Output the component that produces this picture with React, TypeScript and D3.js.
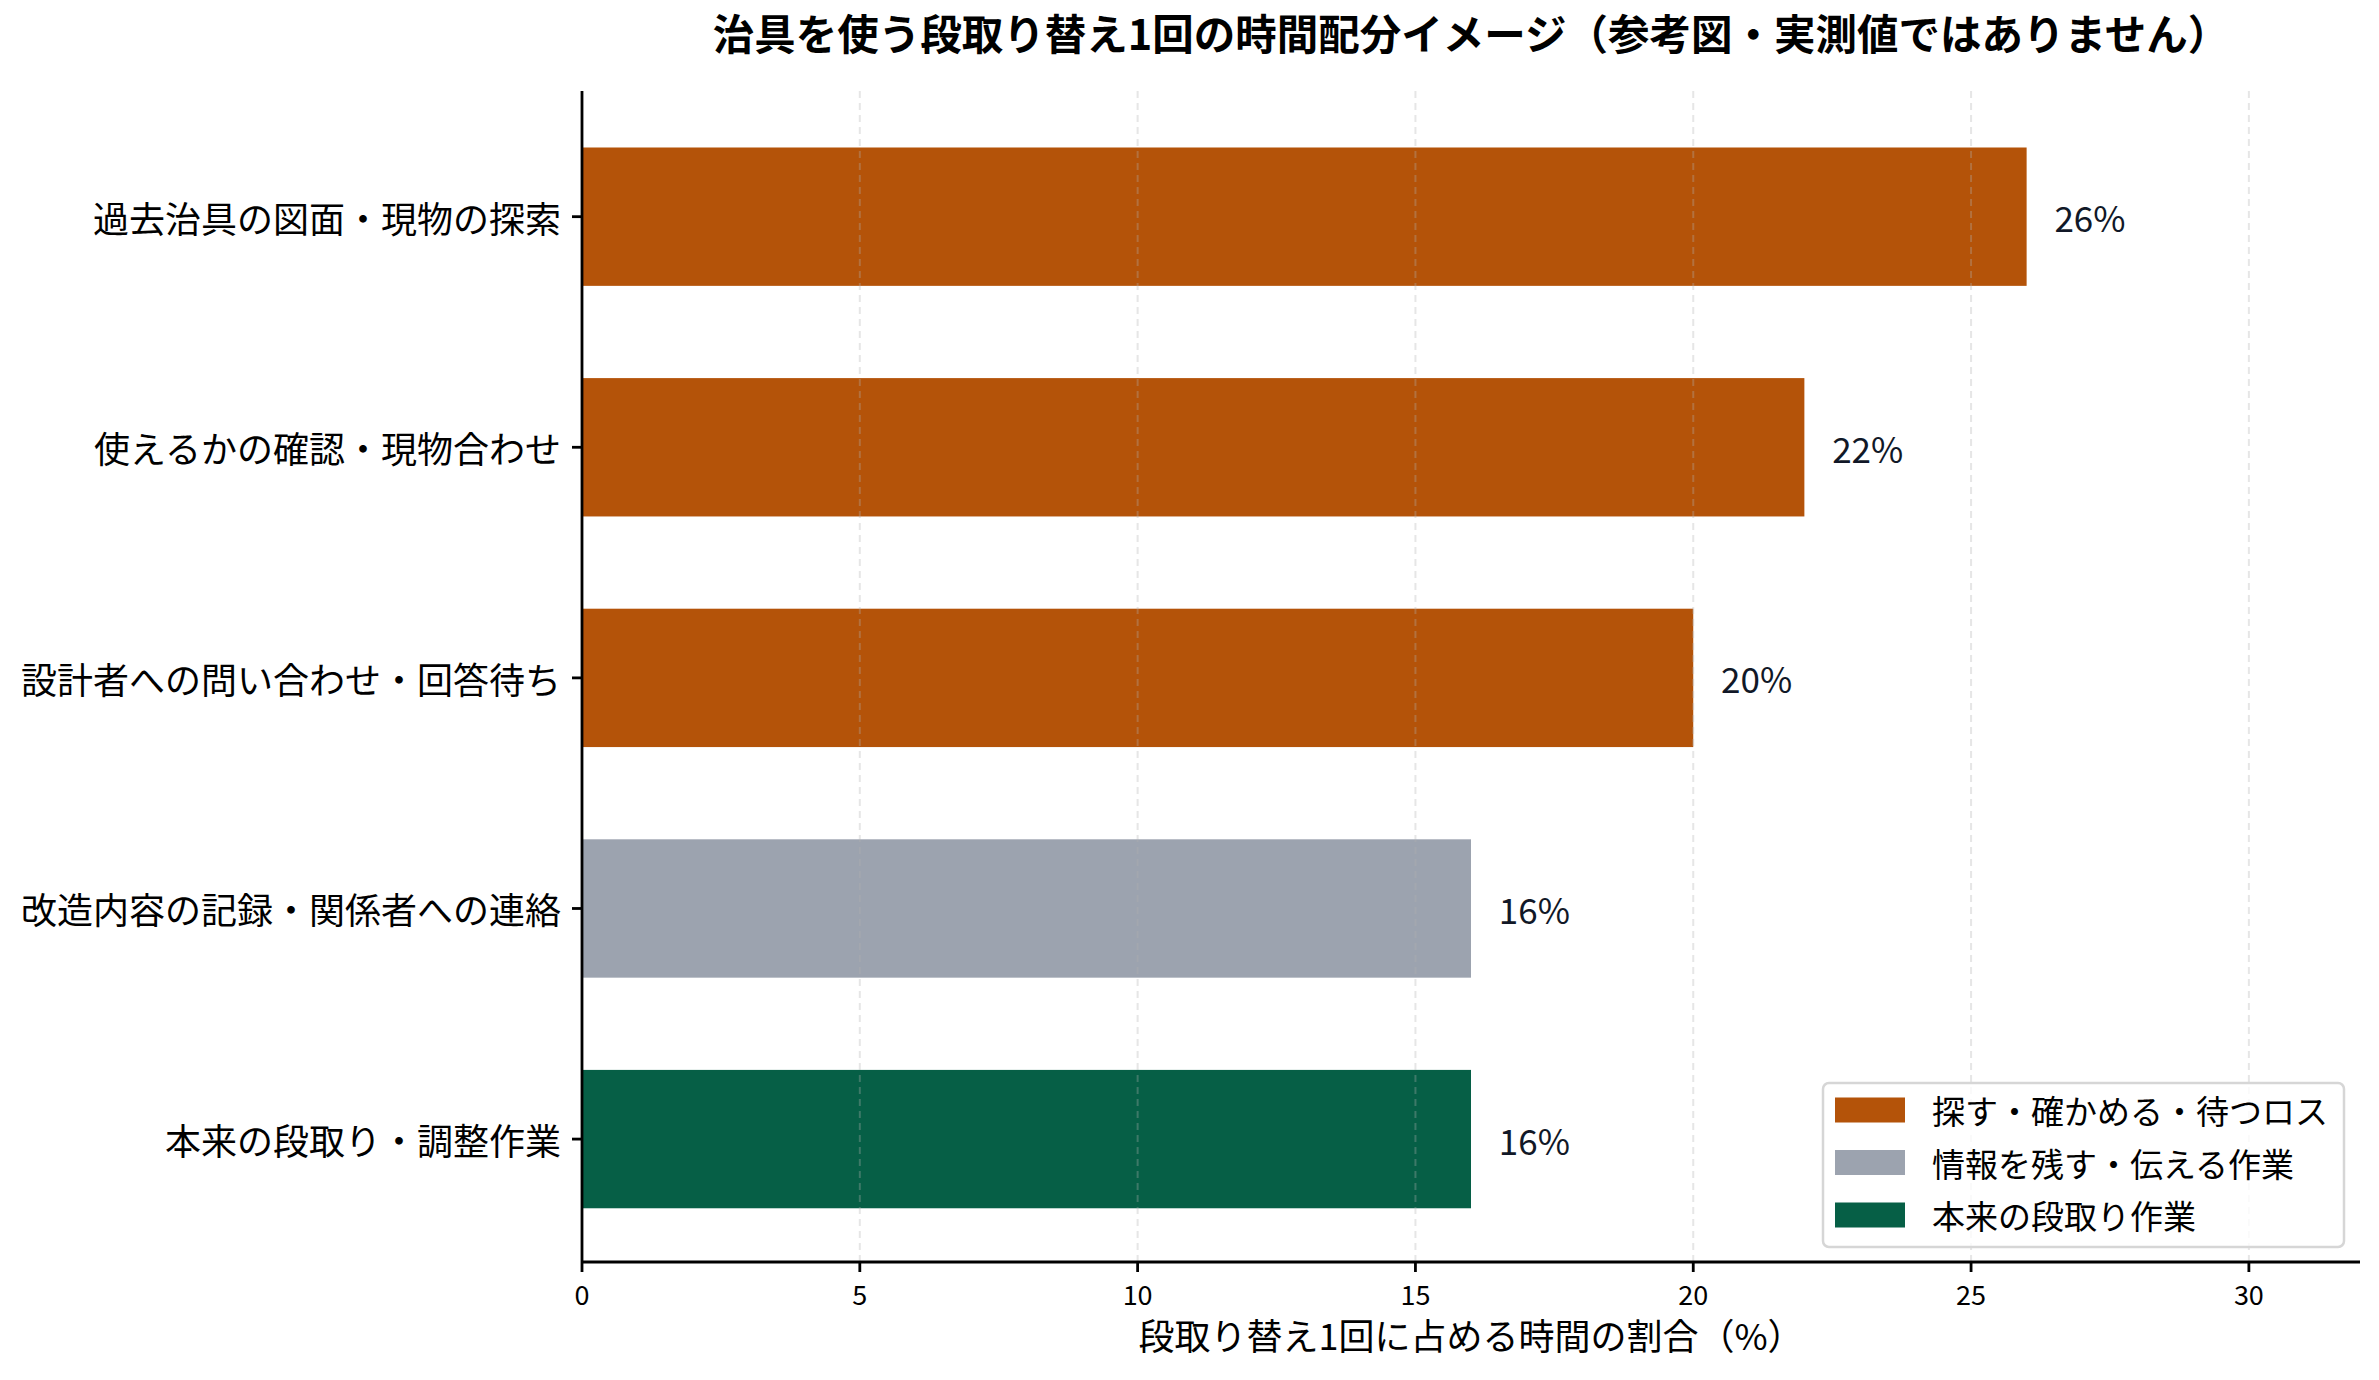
import React, { useEffect, useRef } from 'react';
import * as d3 from 'd3';

const categories = [
  '過去治具の図面・現物の探索',
  '使えるかの確認・現物合わせ',
  '設計者への問い合わせ・回答待ち',
  '改造内容の記録・関係者への連絡',
  '本来の段取り・調整作業',
];
const shares = [26, 22, 20, 16, 16];
const groups = ['loss', 'loss', 'loss', 'info', 'core'];

const legendKeys = ['loss', 'info', 'core'];
const legendLabels = ['探す・確かめる・待つロス', '情報を残す・伝える作業', '本来の段取り作業'];
const xTicks = [0, 5, 10, 15, 20, 25, 30];

const colors: Record<string, string> = {
  loss: '#b45309',
  info: '#9ca3af',
  core: '#065f46',
};

const FONT = '"Noto Sans CJK JP", "Noto Sans", sans-serif';

const App: React.FC = () => {
  const svgRef = useRef<SVGSVGElement>(null);

  useEffect(() => {
    if (!svgRef.current) return;

    const width = 2379;
    const height = 1380;
    const left = 582;
    const right = 2360;
    const top = 91;
    const bottom = 1262;

    const svg = d3.select(svgRef.current)
      .attr('width', width)
      .attr('height', height)
      .attr('viewBox', `0 0 ${width} ${height}`)
      .html('');

    svg.append('rect').attr('width', width).attr('height', height).attr('fill', '#fff');

    const x = d3.scaleLinear().domain([0, 32]).range([left, right]);
    const y = d3.scaleLinear().domain([-0.545, 4.533]).range([top, bottom]);
    const barH = y(0.3) - y(-0.3);

    // bars
    svg.append('g')
      .selectAll('rect')
      .data(shares)
      .join('rect')
      .attr('x', x(0))
      .attr('y', (_, i) => y(i) - barH / 2)
      .attr('width', d => x(d) - x(0))
      .attr('height', barH)
      .attr('fill', (_, i) => colors[groups[i]]);

    // grid (drawn over bars, translucent)
    svg.append('g')
      .selectAll('line')
      .data(xTicks.slice(1))
      .join('line')
      .attr('x1', d => x(d))
      .attr('x2', d => x(d))
      .attr('y1', top)
      .attr('y2', bottom)
      .attr('stroke', '#b0b0b0')
      .attr('stroke-opacity', 0.32)
      .attr('stroke-width', 2)
      .attr('stroke-dasharray', '7,5');

    // value labels
    svg.append('g')
      .selectAll('text')
      .data(shares)
      .join('text')
      .attr('x', d => x(d + 0.5))
      .attr('y', (_, i) => y(i))
      .attr('dominant-baseline', 'central')
      .attr('font-family', FONT)
      .attr('font-size', 35)
      .attr('fill', '#111827')
      .text(d => `${d}%`);

    // x axis
    const xAxis = svg.append('g');
    xAxis.append('line')
      .attr('x1', left).attr('x2', right)
      .attr('y1', bottom).attr('y2', bottom)
      .attr('stroke', '#000').attr('stroke-width', 2.8);
    const xt = xAxis.selectAll('g.tick').data(xTicks).join('g').attr('class', 'tick');
    xt.append('line')
      .attr('x1', d => x(d)).attr('x2', d => x(d))
      .attr('y1', bottom).attr('y2', bottom + 10)
      .attr('stroke', '#000').attr('stroke-width', 2.8);
    xt.append('text')
      .attr('x', d => x(d))
      .attr('y', bottom + 43)
      .attr('text-anchor', 'middle')
      .attr('font-family', FONT)
      .attr('font-size', 27)
      .attr('fill', '#000')
      .text(d => d);

    // y axis
    const yAxis = svg.append('g');
    yAxis.append('line')
      .attr('x1', left).attr('x2', left)
      .attr('y1', top).attr('y2', bottom)
      .attr('stroke', '#000').attr('stroke-width', 2.8);
    const yt = yAxis.selectAll('g.tick').data(categories).join('g').attr('class', 'tick');
    yt.append('line')
      .attr('x1', left - 10).attr('x2', left)
      .attr('y1', (_, i) => y(i)).attr('y2', (_, i) => y(i))
      .attr('stroke', '#000').attr('stroke-width', 2.8);
    yt.append('text')
      .attr('x', left - 21)
      .attr('y', (_, i) => y(i))
      .attr('text-anchor', 'end')
      .attr('dominant-baseline', 'central')
      .attr('font-family', FONT)
      .attr('font-size', 36)
      .attr('fill', '#000')
      .text(d => d);

    // axis label
    svg.append('text')
      .attr('x', (left + right) / 2)
      .attr('y', 1350)
      .attr('text-anchor', 'middle')
      .attr('font-family', FONT)
      .attr('font-size', 36)
      .attr('fill', '#000')
      .text('段取り替え1回に占める時間の割合（%）');

    // title
    svg.append('text')
      .attr('x', (left + right) / 2)
      .attr('y', 50)
      .attr('text-anchor', 'middle')
      .attr('font-family', FONT)
      .attr('font-size', 41.5)
      .attr('font-weight', 'bold')
      .attr('fill', '#000')
      .text('治具を使う段取り替え1回の時間配分イメージ（参考図・実測値ではありません）');

    // legend
    const lg = svg.append('g');
    lg.append('rect')
      .attr('x', 1823).attr('y', 1083)
      .attr('width', 2344 - 1823).attr('height', 1247 - 1083)
      .attr('rx', 6)
      .attr('fill', '#fff')
      .attr('fill-opacity', 0.8)
      .attr('stroke', '#d6d6d6')
      .attr('stroke-width', 2.5);
    const rows = lg.selectAll('g.row').data(legendKeys).join('g').attr('class', 'row')
      .attr('transform', (_, i) => `translate(0,${1110 + i * 52.5})`);
    rows.append('rect')
      .attr('x', 1835).attr('y', -12.5)
      .attr('width', 70).attr('height', 25)
      .attr('fill', d => colors[d]);
    rows.append('text')
      .attr('x', 1932).attr('y', 0)
      .attr('dominant-baseline', 'central')
      .attr('font-family', FONT)
      .attr('font-size', 33)
      .attr('fill', '#000')
      .text((_, i) => legendLabels[i]);
  }, []);

  return (
    <div style={{ position: 'absolute', left: 0, top: 0 }}>
      <svg ref={svgRef} style={{ display: 'block' }} />
    </div>
  );
};

export default App;
